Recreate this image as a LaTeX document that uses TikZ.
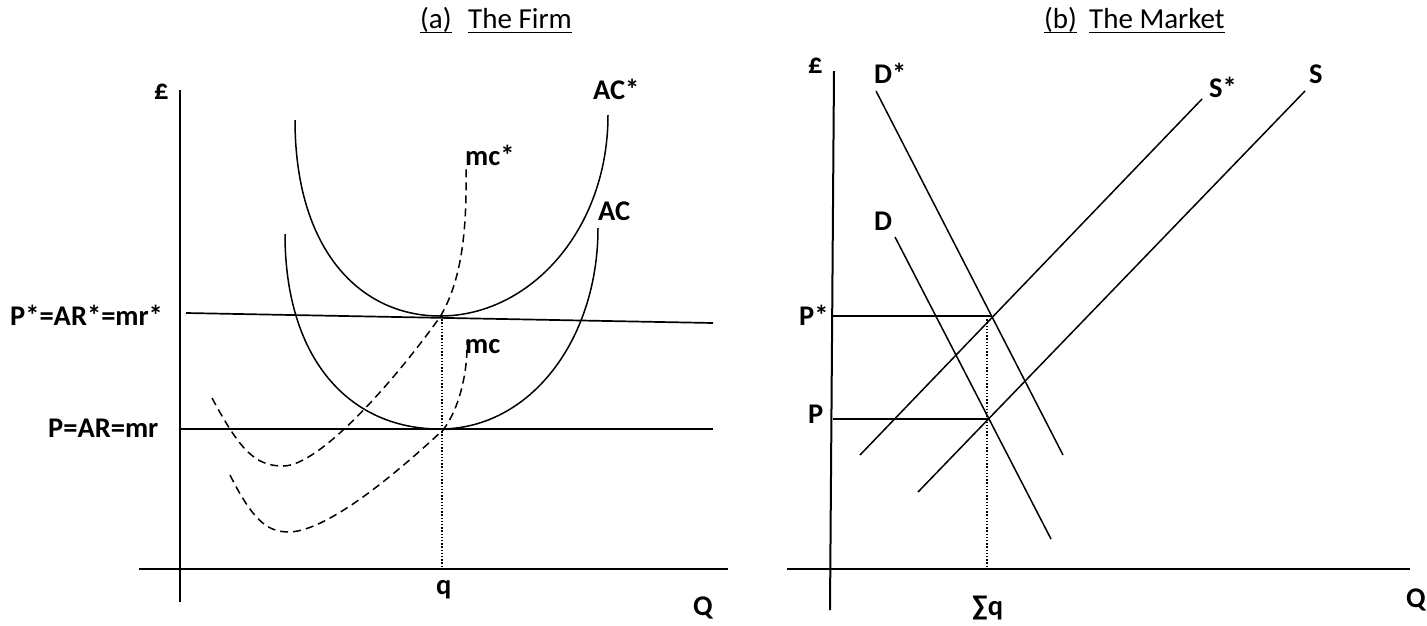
\documentclass[tikz,border=0pt]{standalone}
\usepackage{fontspec}
\setmainfont{Carlito}
\begin{document}
\begin{tikzpicture}[x=1pt,y=-1pt,
  lbl/.style={font=\fontsize{28.5}{30}\selectfont\bfseries, inner sep=0pt, anchor=base west},
  ttl/.style={font=\fontsize{29}{30}\selectfont, inner sep=0pt, anchor=base west},
  axis/.style={line width=2pt},
  curve/.style={line width=1.5pt},
  pline/.style={line width=1.7pt},
  mcline/.style={line width=1.5pt, dash pattern=on 8pt off 5pt},
  guide/.style={line width=1.3pt, dash pattern=on 1.4pt off 1.8pt},
  uline/.style={line width=1.5pt}]
\fill[white] (0,0) rectangle (1427,625);
\useasboundingbox (0,0) rectangle (1427,625);

% ---------- titles ----------
\node[ttl] (ta) at (420,28) {(a)};
\node[ttl] (tfirm) at (468,28) {The Firm};
\draw[uline] ([yshift=-4.5pt]ta.base west) -- ([yshift=-4.5pt]ta.base east);
\draw[uline] ([yshift=-4.5pt]tfirm.base west) -- ([yshift=-4.5pt]tfirm.base east);
\node[ttl] (tb) at (1044,28) {(b)};
\node[ttl] (tmarket) at (1089,28) {The Market};
\draw[uline] ([yshift=-4.5pt]tb.base west) -- ([yshift=-4.5pt]tb.base east);
\draw[uline] ([yshift=-4.5pt]tmarket.base west) -- ([yshift=-4.5pt]tmarket.base east);

% ---------- panel (a): the firm ----------
\coordinate (ay0) at (180,90);
\coordinate (ay1) at (180,602);
\coordinate (ax0) at (139,569);
\coordinate (ax1) at (728,569);
\draw[axis] (ay0) -- (ay1);
\draw[axis] (ax0) -- (ax1);

\coordinate (pst0) at (186,313);
\coordinate (pst1) at (713,323);
\coordinate (p0) at (180,429);
\coordinate (p1) at (713,429);
\draw[pline] (pst0) -- (pst1);
\draw[pline] (p0) -- (p1);

\coordinate (qtop) at (442,316);
\coordinate (qbot) at (442,569);
\draw[guide] (qtop) -- (qbot);

% AC*
\draw[curve] (295,120) .. controls (295,250) and (360,316) .. (440,316)
  .. controls (530,316) and (608,230) .. (608,115);
% AC
\draw[curve] (285,234) .. controls (285,360) and (350,429) .. (440,429)
  .. controls (530,429) and (598,340) .. (598,228);
% mc*
\draw[mcline] (212,398) .. controls (240,450) and (255,466) .. (283,466)
  .. controls (320,466) and (395,380) .. (440,317)
  .. controls (462,280) and (467,230) .. (466,167);
% mc
\draw[mcline] (230,475) .. controls (255,525) and (270,532) .. (290,532)
  .. controls (330,530) and (400,470) .. (443,430)
  .. controls (460,408) and (468,370) .. (467,340);

\node[lbl] (apound) at (154,99) {£};
\node[lbl] (lacs) at (593,99) {AC*};
\node[lbl] (lmcs) at (465,165) {mc*};
\node[lbl] (lac) at (598,220) {AC};
\node[lbl] (lmc) at (465,353) {mc};
\node[lbl] (lpst) at (10,325) {P*=AR*=mr*};
\node[lbl] (lp) at (48,437) {P=AR=mr};
\node[lbl] (lq) at (436,594) {q};
\node[lbl] (lQa) at (693,615) {Q};

% ---------- panel (b): the market ----------
\coordinate (by0) at (834,71);
\coordinate (by1) at (830,610);
\coordinate (bx0) at (787,569);
\coordinate (bx1) at (1410,569);
\draw[axis] (by0) -- (by1);
\draw[axis] (bx0) -- (bx1);

\coordinate (ds0) at (876,91);
\coordinate (ds1) at (1063,455);
\coordinate (d0) at (895,237);
\coordinate (d1) at (1051,539);
\coordinate (ss0) at (1202,99);
\coordinate (ss1) at (860,455);
\coordinate (s0) at (1305,91);
\coordinate (s1) at (918,492);
\draw[curve] (ds0) -- (ds1);
\draw[curve] (d0) -- (d1);
\draw[curve] (ss0) -- (ss1);
\draw[curve] (s0) -- (s1);

\coordinate (bpst0) at (833,316);
\coordinate (bpst1) at (991,316);
\coordinate (bp0) at (833,419);
\coordinate (bp1) at (988,419);
\draw[pline] (bpst0) -- (bpst1);
\draw[pline] (bp0) -- (bp1);

\coordinate (sqtop) at (987,316);
\coordinate (sqbot) at (987,569);
\draw[guide] (sqtop) -- (sqbot);

\node[lbl] (bpound) at (808,73) {£};
\node[lbl] (lds) at (874,83) {D*};
\node[lbl] (lss) at (1209,97) {S*};
\node[lbl] (ls) at (1309,83) {S};
\node[lbl] (ld) at (874,230) {D};
\node[lbl] (lbps) at (799,325) {P*};
\node[lbl] (lbp) at (808,423) {P};
\node[lbl] (lsq) at (972,615) {∑q};
\node[lbl] (lQb) at (1406,607) {Q};
\end{tikzpicture}
\end{document}
